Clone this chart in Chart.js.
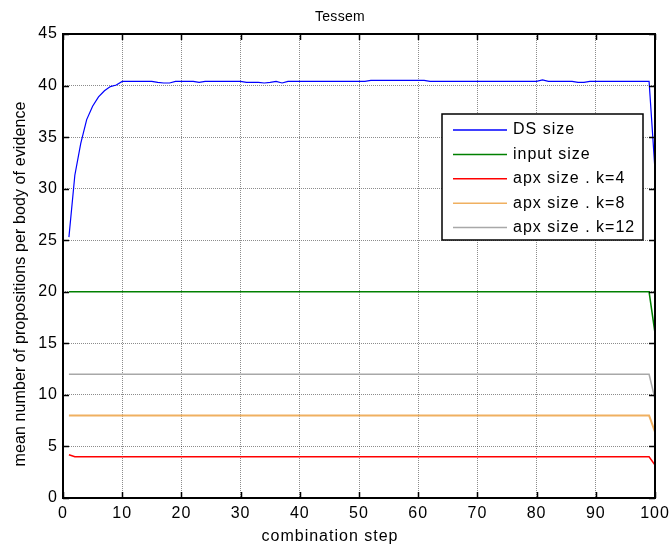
<!DOCTYPE html>
<html><head><meta charset="utf-8">
<script src="https://cdn.jsdelivr.net/npm/chart.js@4.4.1/dist/chart.umd.min.js"></script>
<style>html,body{margin:0;padding:0;background:#fff}#wrap{width:669px;height:548px;position:relative}</style>
</head><body><div id="wrap"><canvas id="c" width="669" height="548"></canvas></div>
<script>
const chartTitle = "Tessem";
const xTitle = "combination step";
const yTitle = "mean number of propositions per body of evidence";
const seriesNames = ["DS size", "input size", "apx size . k=4", "apx size . k=8", "apx size . k=12"];
const seriesColors = ["#0000ff", "#008000", "#ff0000", "#f0b060", "#a8a8a8"];

const dsSteps = [1,2,3,4,5,6,7,8,9,10,11,12,13,14,15,16,17,18,19,20,21,22,23,24,25,26,27,28,29,30,31,32,33,34,35,36,37,38,39,40,41,42,43,44,45,46,47,48,49,50,51,52,53,54,55,56,57,58,59,60,61,62,63,64,65,66,67,68,69,70,71,72,73,74,75,76,77,78,79,80,81,82,83,84,85,86,87,88,89,90,91,92,93,94,95,96,97,98,99,100];
const dsSize = [25.3,31.3,34.4,36.7,38.0,38.9,39.5,39.9,40.05,40.4,
  40.4,40.4,40.4,40.4,40.4,40.3,40.25,40.25,40.4,40.4,
  40.4,40.4,40.3,40.4,40.4,40.4,40.4,40.4,40.4,40.4,
  40.3,40.3,40.3,40.25,40.3,40.4,40.25,40.4,40.4,40.4,
  40.4,40.4,40.4,40.4,40.4,40.4,40.4,40.4,40.4,40.4,
  40.4,40.5,40.5,40.5,40.5,40.5,40.5,40.5,40.5,40.5,
  40.5,40.4,40.4,40.4,40.4,40.4,40.4,40.4,40.4,40.4,
  40.4,40.4,40.4,40.4,40.4,40.4,40.4,40.4,40.4,40.4,
  40.55,40.4,40.4,40.4,40.4,40.4,40.3,40.3,40.4,40.4,
  40.4,40.4,40.4,40.4,40.4,40.4,40.4,40.4,40.4,31.8];

const inputSteps = [1,99,100];
const inputSize = [20,20,16];
const k4Steps = [1,2,99,100];
const k4Size = [4.2,4.0,4.0,3.2];
const k8Steps = [1,99,100];
const k8Size = [8,8,6.4];
const k12Steps = [1,99,100];
const k12Size = [12,12,9.6];

const xTicks = [0,10,20,30,40,50,60,70,80,90,100];
const yTicks = [0,5,10,15,20,25,30,35,40,45];

function pts(xs, ys){ return xs.map((x,i)=>({x:x, y:ys[i]})); }

const FONT = "'Liberation Sans', Arial, sans-serif";

const boxPlugin = {
  id: 'matlabBox',
  beforeUpdate(chart){ chart.ctx.letterSpacing = '1px'; },
  beforeDraw(chart){ chart.ctx.letterSpacing = '1px'; },
  afterDatasetsDraw(chart){
    const ctx = chart.ctx, a = chart.chartArea;
    const xs = chart.scales.x, ys = chart.scales.y;
    ctx.save();
    // inward tick marks
    ctx.strokeStyle = '#000'; ctx.lineWidth = 1.5;
    ctx.beginPath();
    xTicks.forEach(v=>{
      const px = Math.round(xs.getPixelForValue(v))+0.5;
      ctx.moveTo(px, a.bottom); ctx.lineTo(px, a.bottom-6);
      ctx.moveTo(px, a.top); ctx.lineTo(px, a.top+6);
    });
    yTicks.forEach(v=>{
      const py = Math.round(ys.getPixelForValue(v))+0.5;
      ctx.moveTo(a.left, py); ctx.lineTo(a.left+6, py);
      ctx.moveTo(a.right, py); ctx.lineTo(a.right-6, py);
    });
    ctx.stroke();
    // legend
    const lx = 442, ly = 114, lw = 201, lh = 126;
    ctx.fillStyle = '#fff';
    ctx.fillRect(lx, ly, lw, lh);
    ctx.strokeStyle = '#000'; ctx.lineWidth = 1.5;
    ctx.strokeRect(lx, ly, lw, lh);
    ctx.font = "16px " + FONT;
    ctx.textBaseline = 'middle'; ctx.textAlign = 'left';
    chart.data.datasets.forEach((d,i)=>{
      const yy = ly + 16 + i*24.4;
      ctx.strokeStyle = d.borderColor; ctx.lineWidth = 1.5;
      ctx.beginPath(); ctx.moveTo(lx+11, yy); ctx.lineTo(lx+65, yy); ctx.stroke();
      ctx.fillStyle = '#000';
      ctx.fillText(d.label, lx+71, yy);
    });
    // axes box
    ctx.strokeStyle = '#000'; ctx.lineWidth = 2;
    ctx.strokeRect(a.left, a.top, a.right-a.left, a.bottom-a.top);
    // title
    ctx.fillStyle = '#000';
    ctx.letterSpacing = '0.3px';
    ctx.font = "14px " + FONT;
    ctx.textAlign = 'center'; ctx.textBaseline = 'middle';
    ctx.fillText(chartTitle, 340, 17);
    // x axis title
    ctx.letterSpacing = '1px';
    ctx.font = "16px " + FONT;
    ctx.fillText(xTitle, 330, 537);
    // y axis title
    ctx.font = "16px " + FONT;
    ctx.letterSpacing = '0.1px';
    ctx.translate(21, 284);
    ctx.rotate(-Math.PI/2);
    ctx.fillText(yTitle, 0, 0);
    ctx.restore();
  }
};

const gridOpts = { color: 'rgba(0,0,0,0.45)', lineWidth: 1, drawTicks: false };

new Chart(document.getElementById('c'), {
  type: 'line',
  data: {
    datasets: [
      { label: seriesNames[0], data: pts(dsSteps, dsSize), borderColor: seriesColors[0], borderWidth: 1.2 },
      { label: seriesNames[1], data: pts(inputSteps, inputSize), borderColor: seriesColors[1], borderWidth: 1.5 },
      { label: seriesNames[2], data: pts(k4Steps, k4Size), borderColor: seriesColors[2], borderWidth: 1.5 },
      { label: seriesNames[3], data: pts(k8Steps, k8Size), borderColor: seriesColors[3], borderWidth: 2 },
      { label: seriesNames[4], data: pts(k12Steps, k12Size), borderColor: seriesColors[4], borderWidth: 1.5 }
    ].map(d=>Object.assign(d, {pointRadius:0, tension:0, fill:false}))
  },
  options: {
    responsive: false,
    animation: false,
    devicePixelRatio: 1,
    layout: { padding: { left: 0, right: 14, top: 34, bottom: 0 } },
    plugins: { legend: { display: false }, title: { display: false }, tooltip: { enabled: false } },
    scales: {
      x: {
        type: 'linear', min: 0, max: 100,
        afterBuildTicks(s){ s.ticks = xTicks.map(v=>({value:v})); },
        afterFit(s){ s.height = 50; s.paddingRight = 0; s.paddingLeft = 0; },
        ticks: { color: '#000', font: { family: FONT, size: 16 }, padding: 6, maxRotation: 0, autoSkip: false },
        grid: Object.assign({ }, gridOpts),
        border: { display: false, dash: [1,1] },
        title: { display: false }
      },
      y: {
        type: 'linear', min: 0, max: 45,
        afterBuildTicks(s){ s.ticks = yTicks.map(v=>({value:v})); },
        afterFit(s){ s.width = 63; s.paddingTop = 0; s.paddingBottom = 0; },
        ticks: { color: '#000', font: { family: FONT, size: 16 }, padding: 5 },
        grid: gridOpts,
        border: { display: false, dash: [1,1] },
        title: { display: false }
      }
    }
  },
  plugins: [boxPlugin]
});
</script>
</body></html>
